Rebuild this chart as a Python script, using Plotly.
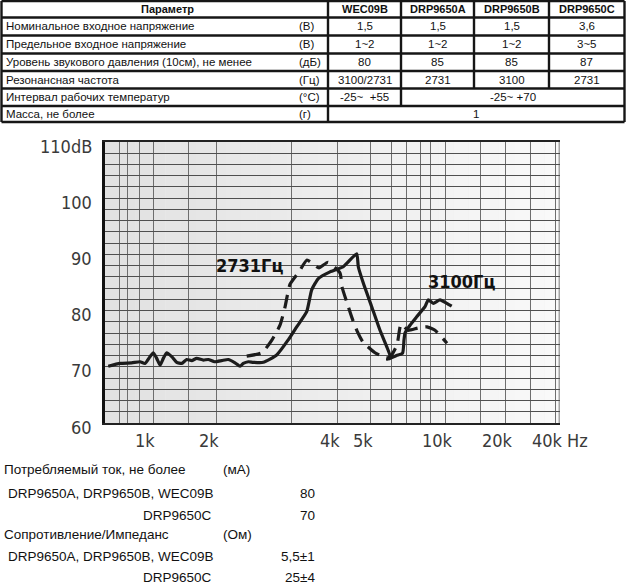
import numpy as np
import plotly.graph_objects as go

W, H = 626, 585

# ---------------- table data ----------------
param_header = "Параметр"
table_columns = ["WEC09B", "DRP9650A", "DRP9650B", "DRP9650C"]
param_names = [
    "Номинальное входное напряжение",
    "Предельное входное напряжение",
    "Уровень звукового давления (10см), не менее",
    "Резонансная частота",
    "Интервал рабочих температур",
    "Масса, не более",
]
param_units = ["(В)", "(В)", "(дБ)", "(Гц)", "(°C)", "(г)"]
nominal_voltage = ["1,5", "1,5", "1,5", "3,6"]
limit_voltage = ["1~2", "1~2", "1~2", "3~5"]
spl_db = ["80", "85", "85", "87"]
resonant_hz = ["3100/2731", "2731", "3100", "2731"]
temp_range = ["-25~\u00a0\u00a0+55", "-25~ +70"]      # WEC09B | DRP9650A/B/C
mass_g = ["1"]

# ---------------- text below the chart ----------------
current_title, current_unit = "Потребляемый ток, не более", "(мА)"
current_models = ["DRP9650A, DRP9650B, WEC09B", "DRP9650C"]
current_ma = ["80", "70"]
impedance_title, impedance_unit = "Сопротивление/Импеданс", "(Ом)"
impedance_models = ["DRP9650A, DRP9650B, WEC09B", "DRP9650C"]
impedance_ohm = ["5,5±1", "25±4"]

# ---------------- chart axes ----------------
# the printed frequency scale is non-uniform: grid frequency -> position along the axis
axis_hz = [600, 700, 800, 900, 1000, 1500, 2000, 3000, 4000, 5000, 6000, 7000,
           8000, 9000, 10000, 15000, 20000, 30000, 40000, 50000]
axis_pos = [0, 14, 22.7, 34.3, 48.3, 83.3, 111.7, 186.7, 232.7, 265.7, 286, 301,
            315, 325, 340.3, 375, 400, 425, 450, 454.5]
x_tick_hz = [1000, 2000, 4000, 5000, 10000, 20000, 40000]
x_tick_labels = ["1k", "2k", "4k", "5k", "10k", "20k", "40k"]
x_unit = "Hz"
y_ticks = [60, 70, 80, 90, 100, 110]
y_tick_labels = ["60", "70", "80", "90", "100", "110dB"]

# ---------------- frequency response curves ----------------
solid_hz = [622, 711, 833, 905, 939, 975, 1000, 1040, 1081, 1123,
            1168, 1238, 1311, 1390, 1472, 1553, 1633, 1746, 1837, 1958,
            2055, 2129, 2208, 2269, 2309, 2373, 2438, 2573, 2766, 2945,
            3095, 3295, 3400, 3543, 3812, 4154, 4548, 4598, 4756, 5045,
            5435, 5773, 5946, 5814, 6349, 6753, 6859, 6929, 7272, 7752,
            8485, 8822, 9207, 9642, 10165, 10777]
solid_db = [70.1, 70.6, 70.7, 70.9, 70.6, 71.8, 72.5, 71.5, 70.3, 71.5,
            72.5, 71.8, 70.8, 70.6, 71.3, 71.1, 71.5, 71.2, 71.3, 70.9,
            71.1, 71.3, 70.7, 70.1, 70.6, 70.9, 70.8, 70.8, 72.1, 74.8,
            77.1, 79.8, 83.7, 85.7, 86.9, 87.8, 90.1, 87.8, 84.9, 80.7,
            76.5, 73.6, 71.9, 71.3, 72.0, 72.4, 74.8, 76.0, 77.4, 78.9,
            80.7, 81.9, 81.3, 81.9, 81.3, 80.8]
dashed_hz = [2352, 2555, 2697, 2816, 2893, 2973, 3140, 3301, 3428, 3558,
             3764, 4063, 4118, 4260, 4406, 4558, 4746, 5197, 5736, 5946,
             6382, 6650, 7135, 7848, 8688, 9316, 10201]
dashed_db = [71.9, 72.5, 74.8, 77.4, 80.6, 84.7, 86.9, 89.0, 88.3, 87.6,
             88.6, 86.7, 84.2, 81.4, 78.7, 76.4, 74.4, 72.5, 71.6, 71.7,
             73.9, 77.6, 76.5, 76.9, 77.1, 76.5, 74.2]
peak_labels = ["2731Гц", "3100Гц"]
peak_label_hz = [2394, 12084]
peak_label_db = [88.1, 85.1]


def to_pos(hz):
    return np.interp(np.log10(np.asarray(hz, dtype=float)), np.log10(axis_hz), axis_pos)


def px(x):
    return x / W


def py(y):
    return 1 - y / H


NARROW = "Liberation Sans Narrow, DejaVu Sans Condensed, Liberation Sans, Arial, sans-serif"
SANS = "Liberation Sans, Arial, Helvetica, sans-serif"

fig = go.Figure()
fig.add_trace(go.Scatter(x=to_pos(solid_hz), y=solid_db, mode="lines",
                         line=dict(color="#1c1c1c", width=3.2, shape="spline", smoothing=0.5),
                         hoverinfo="skip", name="3100Гц"))
fig.add_trace(go.Scatter(x=to_pos(dashed_hz), y=dashed_db, mode="lines",
                         line=dict(color="#1c1c1c", width=3.2, dash="14px,8px",
                                   shape="spline", smoothing=0.5),
                         hoverinfo="skip", name="2731Гц"))

shapes = []
# soft gradient background of the chart
n_bands = 30
x_max = axis_pos[-1]
for i in range(n_bands):
    g = int(226 + (249 - 226) * i / (n_bands - 1))
    shapes.append(dict(type="rect", xref="x", yref="y", x0=x_max * i / n_bands,
                       x1=x_max * (i + 1) / n_bands, y0=60, y1=110,
                       fillcolor=f"rgb({g},{g},{g})", line=dict(width=0), layer="below"))
# right border of the chart
shapes.append(dict(type="line", xref="x", yref="y", x0=x_max, x1=x_max, y0=60, y1=110,
                   line=dict(color="#555", width=1.5)))

# ---------------- table grid ----------------
row_edges = [1, 17.5, 35.5, 53.5, 71, 88.5, 106, 122]
col_edges = [1.5, 328, 401, 474, 549, 624.5]
TL = dict(color="#161616", width=2.4)
for y in row_edges:
    shapes.append(dict(type="line", xref="paper", yref="paper", x0=px(col_edges[0]),
                       x1=px(col_edges[-1]), y0=py(y), y1=py(y), line=TL))
for x in (col_edges[0], col_edges[1], col_edges[-1]):
    shapes.append(dict(type="line", xref="paper", yref="paper", x0=px(x), x1=px(x),
                       y0=py(row_edges[0]), y1=py(row_edges[-1]), line=TL))
shapes.append(dict(type="line", xref="paper", yref="paper", x0=px(col_edges[2]), x1=px(col_edges[2]),
                   y0=py(row_edges[0]), y1=py(row_edges[6]), line=TL))
for x in (col_edges[3], col_edges[4]):
    shapes.append(dict(type="line", xref="paper", yref="paper", x0=px(x), x1=px(x),
                       y0=py(row_edges[0]), y1=py(row_edges[5]), line=TL))

ann = []


def txt(x, y, s, anchor="left", size=11.5, bold=False, family=SANS, color="#111"):
    ann.append(dict(x=px(x), y=py(y), xref="paper", yref="paper", text=s, showarrow=False,
                    xanchor=anchor, yanchor="middle", borderpad=0,
                    font=dict(family=family, size=size, color=color,
                              weight="bold" if bold else "normal")))


row_mid = [(row_edges[i] + row_edges[i + 1]) / 2 for i in range(len(row_edges) - 1)]
col_mid = [(col_edges[i] + col_edges[i + 1]) / 2 for i in range(len(col_edges) - 1)]

txt(167, row_mid[0], param_header, "center", 11, True)
for j, c in enumerate(table_columns):
    txt(col_mid[j + 1], row_mid[0], c, "center", 11, True)
for i, (name, unit) in enumerate(zip(param_names, param_units)):
    txt(5, row_mid[i + 1], name)
    txt(298, row_mid[i + 1], unit)
for i, vals in enumerate([nominal_voltage, limit_voltage, spl_db, resonant_hz]):
    for j, v in enumerate(vals):
        txt(col_mid[j + 1], row_mid[i + 1], v, "center")
txt(col_mid[1], row_mid[5], temp_range[0], "center")
txt((col_edges[2] + col_edges[5]) / 2, row_mid[5], temp_range[1], "center")
txt((col_edges[1] + col_edges[5]) / 2, row_mid[6], mass_g[0], "center")

# ---------------- chart labels ----------------
AX_FONT = dict(family=NARROW, size=18, color="#3a3a3a")
for v, lab in zip(y_ticks, y_tick_labels):
    ann.append(dict(x=px(94), y=v, xref="paper", yref="y", text=lab, showarrow=False,
                    xanchor="right", yanchor="middle", yshift=-4, font=AX_FONT))
for f, lab in zip(x_tick_hz, x_tick_labels):
    ann.append(dict(x=float(to_pos([f])[0]), y=py(440), xref="x", yref="paper", text=lab,
                    showarrow=False, xanchor="center", yanchor="middle", xshift=-8,
                    font=AX_FONT))
ann.append(dict(x=px(565), y=py(440), xref="paper", yref="paper", text=x_unit,
                showarrow=False, xanchor="left", yanchor="middle", font=AX_FONT))
for lab, f, d in zip(peak_labels, peak_label_hz, peak_label_db):
    ann.append(dict(x=float(to_pos([f])[0]), y=d, xref="x", yref="y", text=lab,
                    showarrow=False, xanchor="center", yanchor="middle",
                    font=dict(family=NARROW, size=18, color="#111", weight="bold")))

# ---------------- text below the chart ----------------
BS = 13.5
txt(3, 469, current_title, size=BS)
txt(222, 469, current_unit, size=BS)
txt(7, 493, current_models[0], size=BS)
txt(316, 493, current_ma[0], "right", BS)
txt(213, 515, current_models[1], "right", BS)
txt(316, 515, current_ma[1], "right", BS)
txt(3, 534, impedance_title, size=BS)
txt(222, 534, impedance_unit, size=BS)
txt(7, 556, impedance_models[0], size=BS)
txt(316, 556, impedance_ohm[0], "right", BS)
txt(213, 577, impedance_models[1], "right", BS)
txt(316, 577, impedance_ohm[1], "right", BS)

fig.update_layout(
    width=W, height=H, margin=dict(l=0, r=0, t=0, b=0),
    paper_bgcolor="white", plot_bgcolor="#ececec", showlegend=False,
    shapes=shapes, annotations=ann,
    xaxis=dict(domain=[px(105), px(559.5)], range=[0, x_max],
               tickvals=list(to_pos(axis_hz[1:-1])), showticklabels=False, ticks="",
               showgrid=True, gridcolor="#6e6e6e", gridwidth=1.2, zeroline=False,
               showline=True, linecolor="#222", linewidth=2, mirror=True, fixedrange=True),
    yaxis=dict(domain=[py(423), py(142)], range=[60, 110], tick0=60, dtick=2,
               showticklabels=False, ticks="", showgrid=True, gridcolor="#4f4f4f",
               gridwidth=1.2, zeroline=False, showline=True, linecolor="#111",
               linewidth=3, fixedrange=True),
)

fig.write_html("out.html", config={"displayModeBar": False},
               post_script="document.body.style.margin='0';document.body.style.overflow='hidden';")
